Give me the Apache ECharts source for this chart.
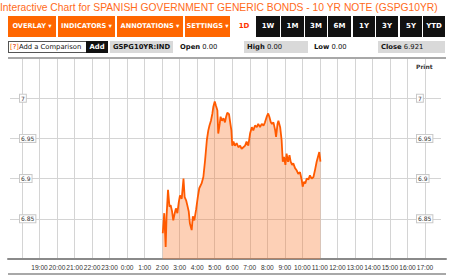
<!DOCTYPE html>
<html><head><meta charset="utf-8">
<script src="https://cdn.jsdelivr.net/npm/echarts@6/dist/echarts.min.js"></script>
<style>
body{margin:0;width:450px;height:278px;overflow:hidden;background:#fff;font-family:"DejaVu Sans",Verdana,sans-serif;}
#chart{position:absolute;left:0;top:0;width:450px;height:278px;}
.a{position:absolute;white-space:nowrap;}
.ob{position:absolute;top:16px;height:21px;background:#ff6600;color:#fff;font-weight:bold;font-size:6.6px;line-height:21px;text-align:center;overflow:hidden;}
.bb{position:absolute;top:16px;height:21px;background:#111;color:#fff;font-weight:bold;font-size:7px;line-height:21px;text-align:center;}
.r2{position:absolute;top:41px;height:12px;line-height:12px;font-size:6.8px;color:#111;white-space:nowrap;}
.g{background:#d9d9d9;}
b{font-weight:bold;}
</style></head><body>
<div id="chart"></div>
<div class="a" style="left:0;top:2px;font-family:'Liberation Sans',Arial,sans-serif;font-size:10.3px;line-height:12px;color:#ff6a1a;">Interactive Chart for SPANISH GOVERNMENT GENERIC BONDS - 10 YR NOTE (GSPG10YR)</div>
<div class="ob" style="left:8px;width:48px;">OVERLAY &#9662;</div>
<div class="ob" style="left:58px;width:57px;">INDICATORS &#9662;</div>
<div class="ob" style="left:117px;width:66px;">ANNOTATIONS &#9662;</div>
<div class="ob" style="left:185px;width:45px;">SETTINGS &#9662;</div>
<div class="a" style="left:236px;top:16px;width:16px;height:21px;line-height:21px;font-size:7px;font-weight:bold;color:#ff3300;text-align:center;">1D</div>
<div class="bb" style="left:256px;width:24px;">1W</div>
<div class="bb" style="left:281px;width:23px;">1M</div>
<div class="bb" style="left:305px;width:22px;">3M</div>
<div class="bb" style="left:328px;width:23px;">6M</div>
<div class="bb" style="left:353px;width:22px;">1Y</div>
<div class="bb" style="left:376px;width:22px;">3Y</div>
<div class="bb" style="left:400px;width:22px;">5Y</div>
<div class="bb" style="left:423px;width:22px;">YTD</div>
<div class="r2" style="left:8px;width:76px;height:10px;line-height:10px;border:1px solid #555;background:#fff;padding-left:1px;"><span style="color:#ff6600;">[<span style="color:#e03000">?</span>]</span>Add a Comparison</div>
<div class="r2" style="left:86px;width:22px;background:#111;color:#fff;text-align:center;font-weight:bold;">Add</div>
<div class="r2 g" style="left:110px;width:63px;text-align:center;"><b>GSPG10YR:IND</b></div>
<div class="r2" style="left:180px;"><b>Open</b> 0.00</div>
<div class="r2 g" style="left:244px;width:61px;padding-left:3px;"><b>High</b> 0.00</div>
<div class="r2" style="left:314px;"><b>Low</b> 0.00</div>
<div class="r2 g" style="left:378px;width:64px;padding-left:3px;"><b>Close</b> 6.921</div>
<div class="a" style="left:8px;top:57px;width:438px;height:2px;background:#a8a8a8;"></div>
<div class="a" style="left:8px;top:273px;width:438px;height:2px;background:#a8a8a8;"></div>
<div class="a" style="left:416px;top:63px;font-size:6px;font-weight:bold;color:#333;line-height:8px;">Print</div>
<script>
// hour tick labels, from 18:00 (previous day) to 17:00
const xTickLabels = ['18:00','19:00','20:00','21:00','22:00','23:00','0:00','1:00','2:00','3:00','4:00','5:00','6:00','7:00','8:00','9:00','10:00','11:00','12:00','13:00','14:00','15:00','16:00','17:00'];
const times = ['02:02','02:07','02:12','02:15','02:20','02:25','02:29','02:34','02:38','02:43','02:47','02:52','02:57','03:01','03:07','03:13','03:17','03:22','03:26','03:31','03:35','03:41','03:45','03:50','03:56','04:02','04:07','04:15','04:21','04:27','04:33','04:38','04:42','04:47','04:52','04:55','05:00','05:04','05:09','05:12','05:17','05:20','05:25','05:30','05:35','05:39','05:43','05:49','05:52','05:57','06:00','06:04','06:09','06:15','06:21','06:27','06:32','06:38','06:44','06:49','06:55','07:01','07:07','07:12','07:18','07:24','07:29','07:35','07:41','07:47','07:52','07:58','08:03','08:07','08:12','08:16','08:21','08:27','08:30','08:35','08:38','08:44','08:49','08:53','08:57','09:02','09:06','09:11','09:16','09:20','09:25','09:29','09:35','09:41','09:46','09:52','09:58','10:01','10:06','10:10','10:15','10:21','10:26','10:32','10:38','10:43','10:49','10:55','10:58','11:02'];
const yields = [6.832,6.857,6.815,6.853,6.886,6.865,6.867,6.859,6.848,6.857,6.863,6.857,6.871,6.879,6.875,6.900,6.877,6.873,6.867,6.859,6.844,6.836,6.853,6.848,6.861,6.877,6.888,6.894,6.902,6.923,6.948,6.960,6.966,6.972,6.981,6.989,6.996,6.991,6.985,6.956,6.968,6.977,6.972,6.975,6.970,6.977,6.982,6.980,6.972,6.960,6.941,6.946,6.941,6.944,6.939,6.941,6.937,6.939,6.941,6.946,6.941,6.956,6.964,6.960,6.966,6.964,6.968,6.964,6.968,6.966,6.970,6.977,6.981,6.977,6.970,6.968,6.970,6.960,6.952,6.968,6.972,6.964,6.948,6.921,6.927,6.917,6.931,6.921,6.929,6.921,6.917,6.919,6.913,6.910,6.906,6.908,6.898,6.890,6.896,6.894,6.900,6.899,6.904,6.900,6.902,6.910,6.921,6.929,6.933,6.921];

// x = hours since 18:00 of the previous day
const toX = t => { const [h, m] = t.split(':').map(Number); return h + m / 60 + 6; };
const seriesData = times.map((t, i) => [toX(t), yields[i]]);

const Y_MIN = 6.8, Y_MAX = 7.05, Y_INT = 0.05;
const labelBox = { fontSize: 6, color: '#333', fontFamily: 'DejaVu Sans', backgroundColor: '#fff', borderColor: '#c8c8c8', borderWidth: 1, padding: [1, 1, 0, 1] };

const chart = echarts.init(document.getElementById('chart'), null, { renderer: 'svg' });
chart.setOption({
  animation: false,
  grid: [
    { left: 10, right: 9, top: 58, bottom: 19 },
    { left: 8, right: 4, top: 58, bottom: 19 },
    { left: 22, right: 25, top: 58, bottom: 19 }
  ],
  xAxis: [
    { gridIndex: 0, type: 'value', min: 0, max: 1, show: false },
    { gridIndex: 1, type: 'value', min: 0, max: 1, axisLine: { show: true, lineStyle: { color: '#8a8a8a', width: 2 } }, axisTick: { show: false }, axisLabel: { show: false }, splitLine: { show: false } },
    { gridIndex: 2, type: 'value', min: 0, max: 23, interval: 1,
      axisLine: { show: false }, axisTick: { show: false },
      splitLine: { show: true, lineStyle: { color: '#d4d4d4', width: 1 } },
      axisLabel: { showMinLabel: false, fontSize: 6.6, color: '#333', fontFamily: 'Liberation Sans', margin: 5, formatter: v => xTickLabels[v] } }
  ],
  yAxis: [
    { gridIndex: 0, type: 'value', min: Y_MIN, max: Y_MAX, interval: Y_INT, axisLine: { show: false }, axisTick: { show: false }, axisLabel: { show: false },
      splitLine: { show: true, showMinLine: false, showMaxLine: false, lineStyle: { color: '#d4d4d4', width: 1 } } },
    { gridIndex: 1, type: 'value', min: Y_MIN, max: Y_MAX, show: false },
    { gridIndex: 2, type: 'value', position: 'left', min: Y_MIN, max: Y_MAX, interval: Y_INT, axisLine: { show: false }, axisTick: { show: false }, splitLine: { show: false },
      axisLabel: Object.assign({ inside: true, margin: -2, showMinLabel: false, showMaxLabel: false }, labelBox) },
    { gridIndex: 2, type: 'value', position: 'right', min: Y_MIN, max: Y_MAX, interval: Y_INT, axisLine: { show: false }, axisTick: { show: false }, splitLine: { show: false },
      axisLabel: Object.assign({ inside: true, margin: 8, align: 'left', showMinLabel: false, showMaxLabel: false }, labelBox) }
  ],
  series: [{
    type: 'line', xAxisIndex: 2, yAxisIndex: 2, data: seriesData,
    symbol: 'none', z: 1,
    lineStyle: { color: '#ff5a00', width: 1.8 },
    areaStyle: { color: 'rgba(250,120,45,0.5)', origin: 'start' }
  }]
});
</script>
</body></html>
